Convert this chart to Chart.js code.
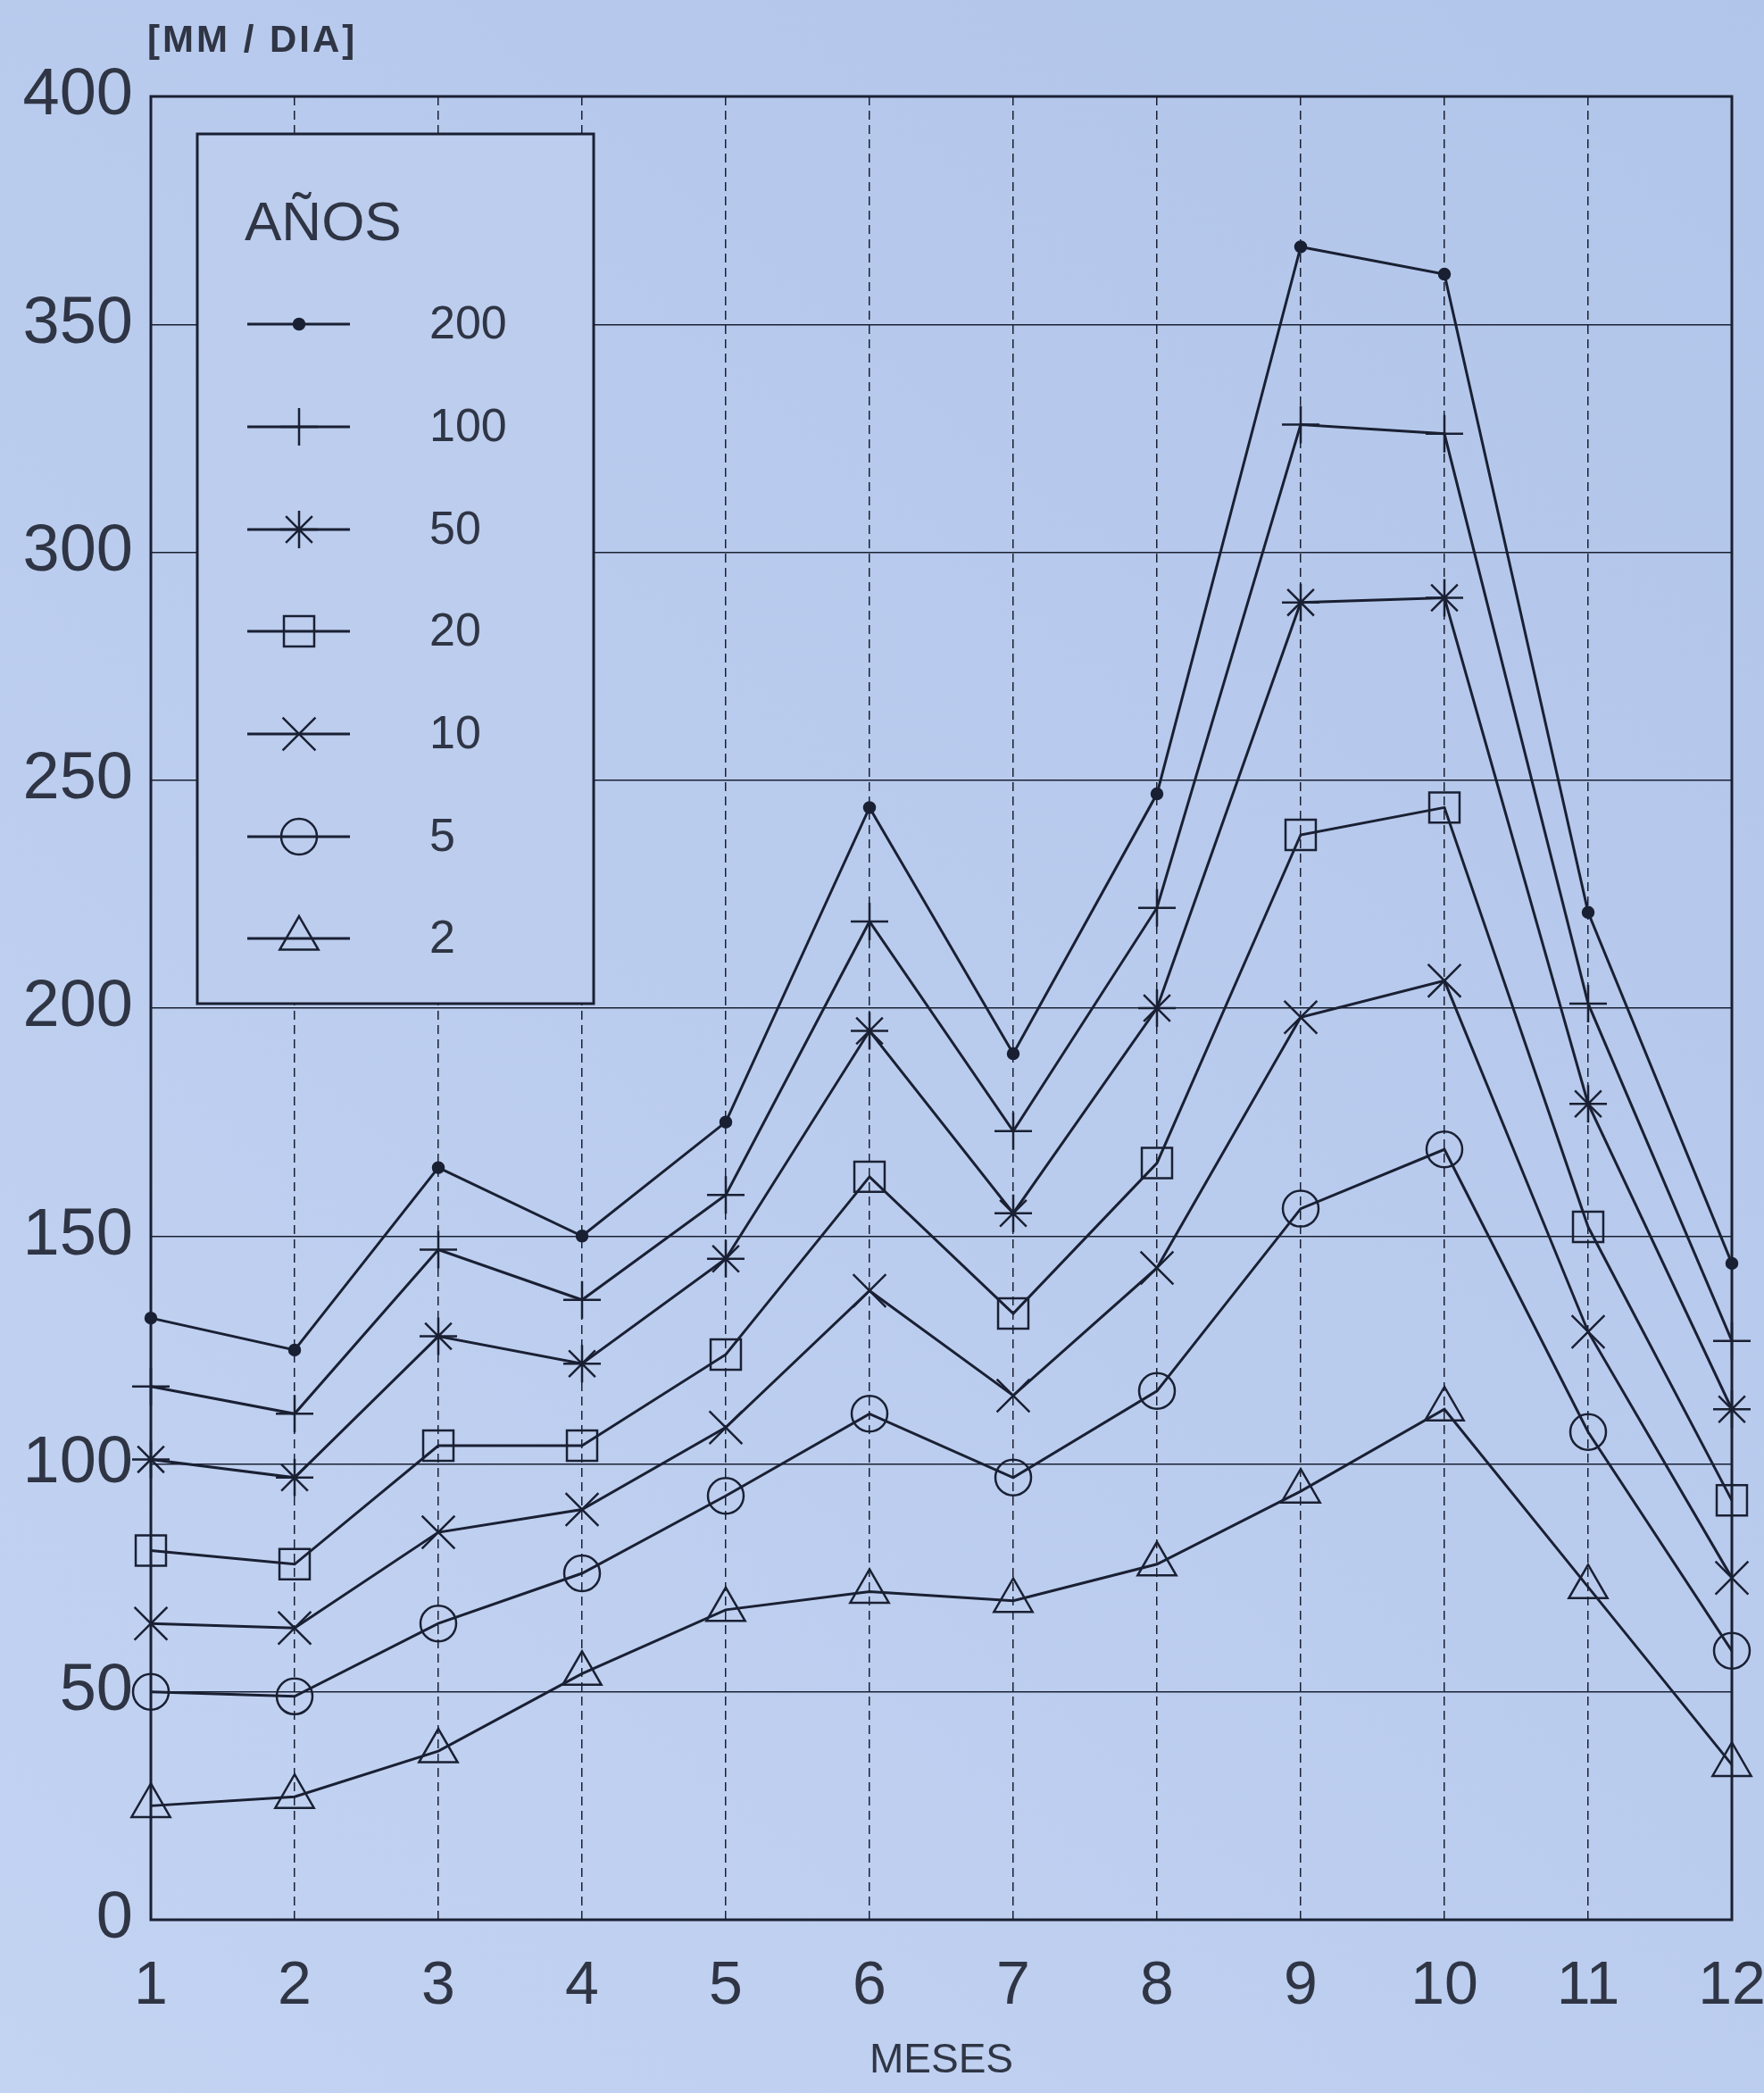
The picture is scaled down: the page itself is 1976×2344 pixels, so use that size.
<!DOCTYPE html>
<html lang="es">
<head>
<meta charset="utf-8">
<title>Lluvia máxima diaria por mes</title>
<script src="https://cdn.jsdelivr.net/npm/chart.js@4/dist/chart.umd.min.js"></script>
<style>
  html, body { margin: 0; padding: 0; background: #b9cbee; }
  #caja { width: 1976px; height: 2344px; position: relative; }
</style>
</head>
<body>
<div id="caja"><canvas id="grafico"></canvas></div>
<script>
// datos (mm/dia por mes, segun periodo de retorno)
const meses = ['1', '2', '3', '4', '5', '6', '7', '8', '9', '10', '11', '12'];
const periodos = ['200', '100', '50', '20', '10', '5', '2'];
const lluvia200 = [132, 125, 165, 150, 175, 244, 190, 247, 367, 361, 221, 144];
const lluvia100 = [117, 111, 147, 136, 159, 219, 173, 222, 328, 326, 201, 127];
const lluvia50 = [101, 97, 128, 122, 145, 195, 155, 200, 289, 290, 179, 112];
const lluvia20 = [81, 78, 104, 104, 124, 163, 133, 166, 238, 244, 152, 92];
const lluvia10 = [65, 64, 85, 90, 108, 138, 115, 143, 198, 206, 129, 75];
const lluvia5 = [50, 49, 65, 76, 93, 111, 97, 116, 156, 169, 107, 59];
const lluvia2 = [25, 27, 37, 54, 68, 72, 70, 78, 94, 112, 73, 34];
const ticksY = [0, 50, 100, 150, 200, 250, 300, 350, 400];

const series = [lluvia200, lluvia100, lluvia50, lluvia20, lluvia10, lluvia5, lluvia2];
const marcadores = ['circle', 'cross', 'star', 'rect', 'crossRot', 'circle', 'triangle'];
const radios = [6, 21, 21, 24, 26, 20, 25];

const tinta = '#1a2033';
const textoGris = '#2f3544';

const datasets = series.map((valores, i) => ({
  label: periodos[i],
  data: valores,
  borderColor: tinta,
  borderWidth: 3,
  pointStyle: marcadores[i],
  pointRadius: radios[i],
  pointBorderColor: tinta,
  pointBorderWidth: 2.5,
  pointBackgroundColor: i === 0 ? tinta : 'rgba(0,0,0,0)',
  tension: 0
}));

// fondo azul de la foto
const pluginFondo = {
  id: 'fondo',
  beforeDraw(chart) {
    const ctx = chart.ctx;
    const g = ctx.createLinearGradient(0, chart.height, chart.width, 0);
    g.addColorStop(0, '#c3d3f2');
    g.addColorStop(1, '#b1c5ea');
    ctx.save();
    ctx.fillStyle = g;
    ctx.fillRect(0, 0, chart.width, chart.height);
    ctx.restore();
  }
};

// marco, leyenda en caja y unidad arriba
const pluginLeyenda = {
  id: 'leyendaCaja',
  afterDatasetsDraw(chart) {
    const ctx = chart.ctx;
    const a = chart.chartArea;
    ctx.save();
    ctx.strokeStyle = tinta;
    ctx.lineWidth = 3;
    ctx.setLineDash([]);
    ctx.strokeRect(a.left, a.top, a.right - a.left, a.bottom - a.top);

    // caja de leyenda
    const bx = 221, by = 150, bw = 444, bh = 974;
    ctx.fillStyle = '#bccdee';
    ctx.fillRect(bx, by, bw, bh);
    ctx.lineWidth = 3;
    ctx.strokeRect(bx, by, bw, bh);

    ctx.fillStyle = textoGris;
    ctx.textBaseline = 'middle';
    ctx.textAlign = 'left';
    ctx.font = '62px "Liberation Sans", Arial, sans-serif';
    ctx.fillText('AÑOS', 274, 252);

    const filas = [363, 478, 593, 707, 822, 937, 1051];
    ctx.font = '52px "Liberation Sans", Arial, sans-serif';
    datasets.forEach((ds, i) => {
      const y = filas[i];
      ctx.strokeStyle = tinta;
      ctx.lineWidth = 3;
      ctx.beginPath();
      ctx.moveTo(277, y);
      ctx.lineTo(392, y);
      ctx.stroke();
      ctx.fillStyle = ds.pointBackgroundColor;
      ctx.lineWidth = 2.5;
      Chart.helpers.drawPoint(ctx, {
        pointStyle: ds.pointStyle,
        radius: ds.pointRadius,
        rotation: 0,
        borderWidth: 2.5
      }, 335, y);
      ctx.fillStyle = textoGris;
      ctx.fillText(ds.label, 481, y + 2);
    });

    ctx.font = 'bold 42px "Liberation Sans", Arial, sans-serif';
    ctx.letterSpacing = '3px';
    ctx.fillStyle = textoGris;
    ctx.fillText('[MM / DIA]', 165, 46);
    ctx.restore();
  }
};

new Chart(document.getElementById('grafico'), {
  type: 'line',
  data: { labels: meses, datasets: datasets },
  options: {
    responsive: true,
    maintainAspectRatio: false,
    animation: false,
    layout: { padding: { top: 108, right: 36, left: 0, bottom: 0 } },
    plugins: {
      legend: { display: false },
      tooltip: { enabled: false }
    },
    scales: {
      x: {
        offset: false,
        afterFit(scale) {
          scale.height = 194;
          scale.paddingRight = 0;
          scale.paddingLeft = 0;
        },
        grid: { color: tinta, lineWidth: 1.5, drawTicks: false },
        border: { display: false, dash: [10, 6] },
        ticks: {
          color: textoGris,
          padding: 34,
          maxRotation: 0,
          autoSkip: false,
          font: { family: '"Liberation Sans", Arial, sans-serif', size: 68 }
        },
        title: {
          display: true,
          text: 'MESES',
          color: textoGris,
          padding: { top: 0, bottom: 8 },
          font: { family: '"Liberation Sans", Arial, sans-serif', size: 46 }
        }
      },
      y: {
        min: ticksY[0],
        max: ticksY[ticksY.length - 1],
        afterFit(scale) { scale.width = 169; },
        afterBuildTicks(scale) { scale.ticks = ticksY.map(v => ({ value: v })); },
        grid: { color: tinta, lineWidth: 1.5, drawTicks: false },
        border: { display: false },
        ticks: {
          color: textoGris,
          padding: 20,
          font: { family: '"Liberation Sans", Arial, sans-serif', size: 74 }
        }
      }
    }
  },
  plugins: [pluginFondo, pluginLeyenda]
});
</script>
</body>
</html>
